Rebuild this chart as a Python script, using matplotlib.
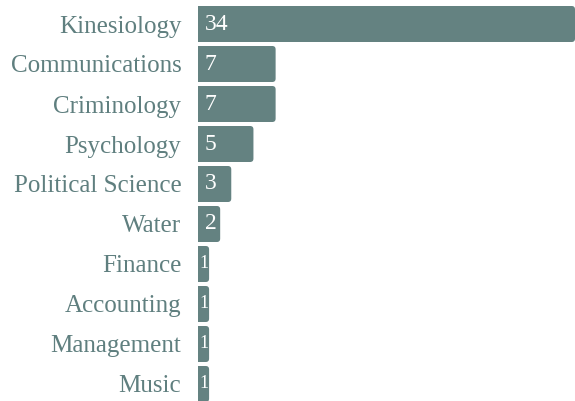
import matplotlib
matplotlib.use('Agg')
import matplotlib.pyplot as plt
from matplotlib.patches import FancyBboxPatch

majors = ['Kinesiology', 'Communications', 'Criminology', 'Psychology',
          'Political Science', 'Water', 'Finance', 'Accounting',
          'Management', 'Music']
counts = [34, 7, 7, 5, 3, 2, 1, 1, 1, 1]

bar_color = '#648281'
text_color = '#5f7f7f'
plt.rcParams['font.family'] = ['Liberation Serif', 'DejaVu Serif']

fig = plt.figure(figsize=(5.75, 4.01), dpi=100)
ax = fig.add_axes([198 / 575, 0, 377 / 575, 1])

ypos = list(range(len(majors)))
bars = ax.barh(ypos, counts, height=0.9, color=bar_color, edgecolor='none')

# swap plain rectangles for ones with rounded right corners
# (left edge pushed past the axis so its rounding gets clipped)
for b in bars:
    x, y, w, h = b.get_x(), b.get_y(), b.get_width(), b.get_height()
    b.set_visible(False)
    fb = FancyBboxPatch((x - 0.5, y), w + 0.5, h,
                        boxstyle='round,pad=0,rounding_size=0.3',
                        mutation_aspect=0.28, facecolor=bar_color,
                        edgecolor='none')
    ax.add_patch(fb)

for y, c in zip(ypos, counts):
    if c > 1:
        ax.text(0.6, y, str(c), color='white', fontsize=17,
                ha='left', va='center')
    else:
        # too narrow for padding, center it in the bar
        ax.text(c / 2, y, str(c), color='white', fontsize=13,
                ha='center', va='center')

ax.set_xlim(0, 34)
ax.set_ylim(9.425, -0.6)
ax.set_yticks(ypos)
ax.set_yticklabels(majors, fontsize=18, color=text_color)
ax.tick_params(axis='y', length=0, pad=12)
ax.set_xticks([])
for s in ax.spines.values():
    s.set_visible(False)

fig.savefig('out.png', dpi=100)
